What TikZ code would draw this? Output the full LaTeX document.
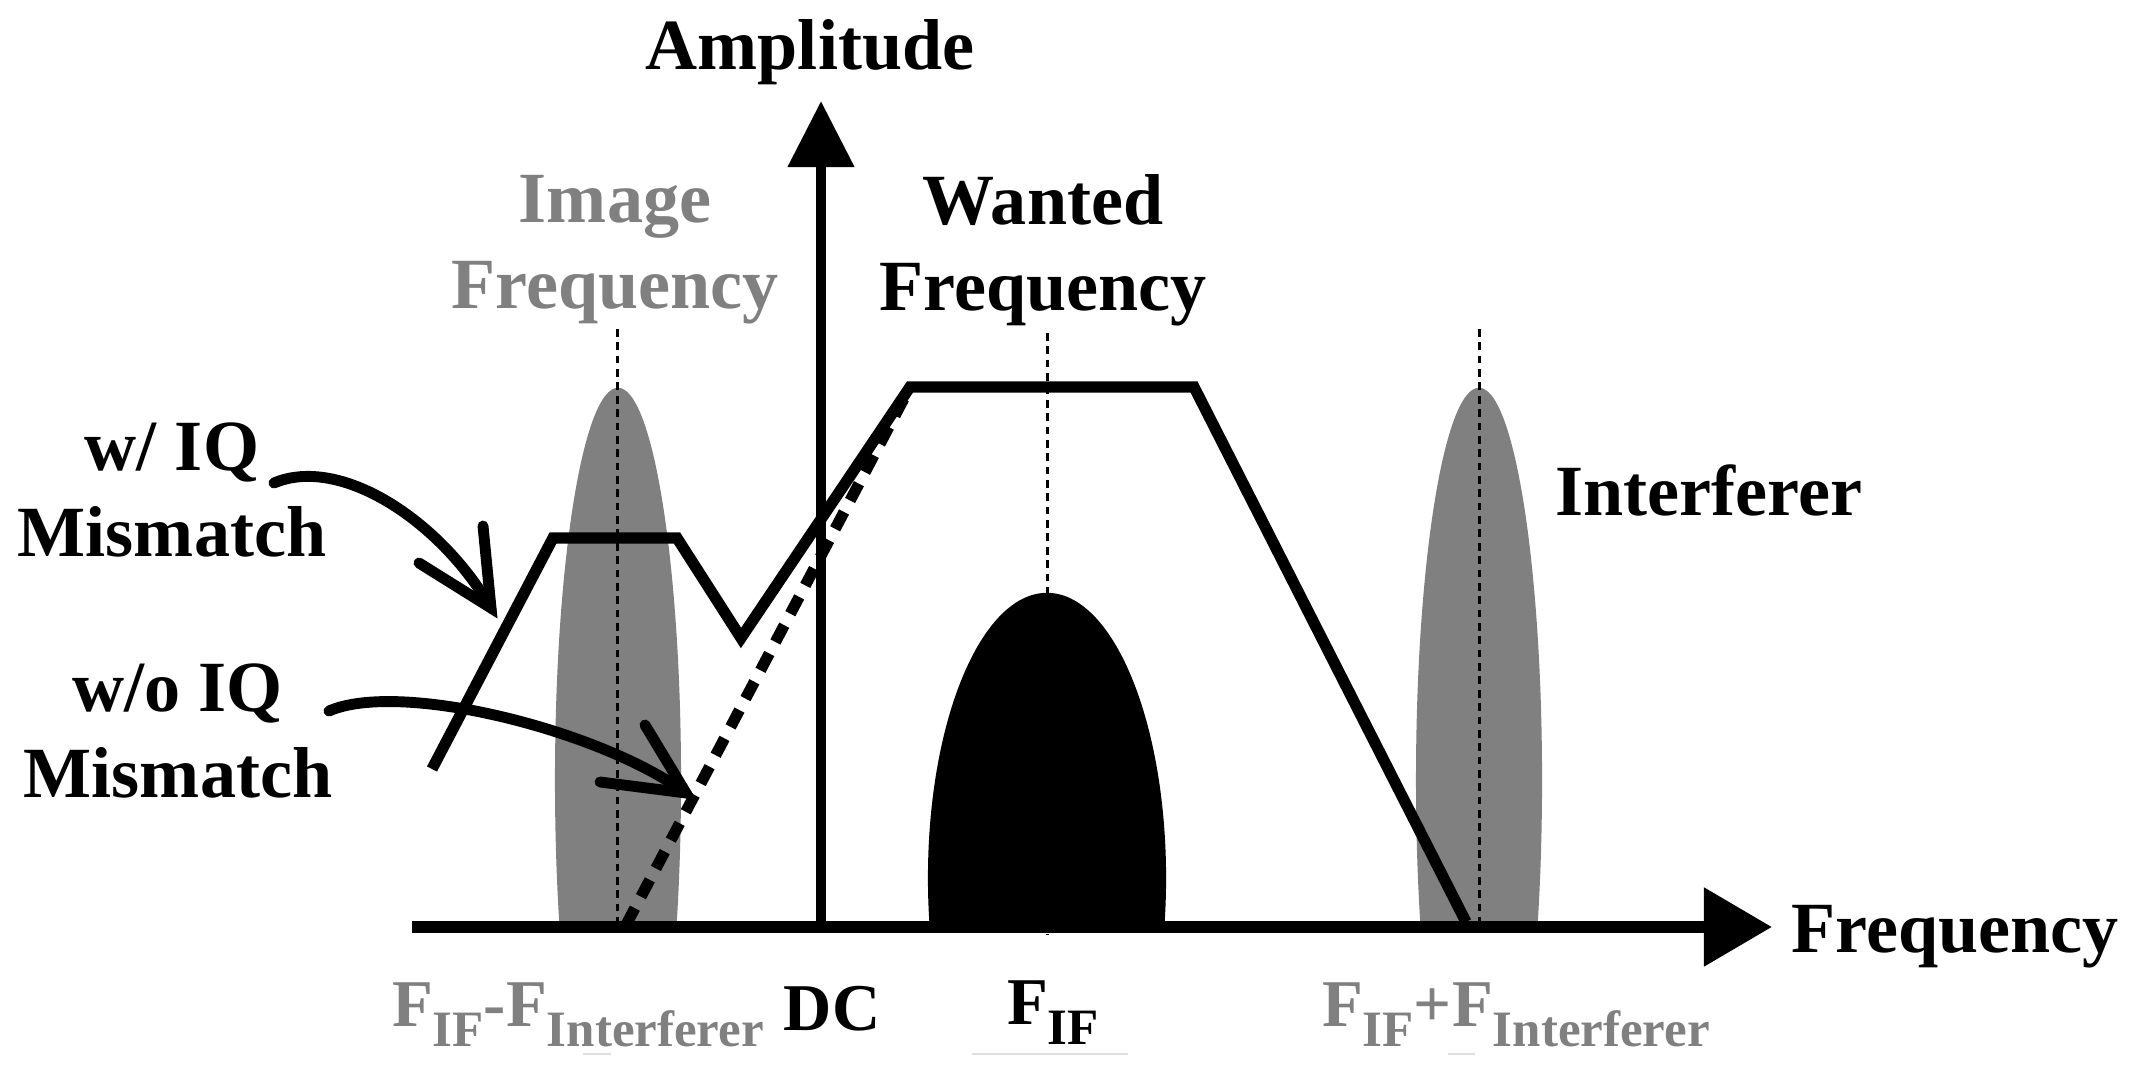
\documentclass[tikz,border=0pt]{standalone}
\usepackage{fontspec}
\setmainfont{Liberation Serif}
\usetikzlibrary{arrows.meta}
\definecolor{gr}{HTML}{808080}
\newcommand\sbs[1]{\raisebox{-0.3em}{\fontsize{14.5}{15}\selectfont #1}}
\tikzset{
  lbl/.style={font=\fontsize{20.5}{24.4}\selectfont\bfseries, inner sep=0pt, align=center},
  graylbl/.style={lbl, text=gr},
  botlbl/.style={font=\fontsize{19}{22}\selectfont\bfseries, inner sep=0pt},
  filt/.style={line width=3.2pt, line join=miter},
  dashline/.style={line width=3.2pt, dash pattern=on 5.4pt off 3.7pt},
  dotline/.style={line width=0.85pt, dash pattern=on 2.2pt off 1.6pt},
  curv/.style={line width=3.1pt, line cap=round},
  faint/.style={line width=0.6pt, gray!25}
}
\begin{document}
\begin{tikzpicture}[x=0.01cm, y=-0.01cm]
\useasboundingbox (0,0) rectangle (2152,1068);
% gray lobes and black wanted signal
\begin{scope}
  \clip (0,0) rectangle (2152,925);
  \fill[gr] (618,780) ellipse [x radius=0.63cm, y radius=3.92cm];
  \fill[gr] (1479,780) ellipse [x radius=0.63cm, y radius=3.92cm];
  \fill[black] (1047,878) ellipse [x radius=1.19cm, y radius=2.85cm];
\end{scope}
% dotted centre lines
\coordinate (imtop) at (617,329);
\coordinate (imbot) at (617,925);
\coordinate (intop) at (1479,329);
\coordinate (inbot) at (1479,925);
\coordinate (wtop) at (1047,333);
\coordinate (wbot) at (1047,935);
\draw[dotline] (imtop) -- (imbot);
\draw[dotline] (intop) -- (inbot);
\draw[dotline] (wtop) -- (wbot);
% axes
\coordinate (xl) at (412,927);
\coordinate (xr) at (1772,927);
\coordinate (yb) at (821,927);
\coordinate (yt) at (821,101);
\draw[line width=3.4pt, -{Triangle[length=0.68cm, width=0.76cm]}] (xl) -- (xr);
\draw[line width=3.1pt, -{Triangle[length=0.66cm, width=0.64cm]}] (yb) -- (yt);
% filter response with IQ mismatch
\coordinate (p1) at (432,769);
\coordinate (p2) at (553,538);
\coordinate (p3) at (677,538);
\coordinate (p4) at (741,638);
\coordinate (p5) at (910,387);
\coordinate (p6) at (1194,387);
\coordinate (p7) at (1466,922);
\draw[filt] (p1) -- (p2) -- (p3) -- (p4) -- (p5) -- (p6) -- (p7);
% without IQ mismatch
\coordinate (d1) at (626,925);
\draw[dashline] (d1) -- (p5);
% curved arrows
\coordinate (a1s) at (274,483);
\coordinate (a1t) at (491,608);
\coordinate (a1h1) at (419,563);
\coordinate (a1h2) at (483,526);
\draw[curv] (a1s) .. controls (340,455) and (440,520) .. (a1t);
\draw[curv] (a1h1) -- (a1t) -- (a1h2);
\coordinate (a2s) at (329,711);
\coordinate (a2t) at (686,793);
\coordinate (a2h1) at (600,782);
\coordinate (a2h2) at (645,725);
\draw[curv] (a2s) .. controls (400,680) and (600,730) .. (a2t);
\draw[curv] (a2h1) -- (a2t) -- (a2h2);
% labels
\node[lbl] (amp) at (810,52) {Amplitude};
\node[graylbl] (imf) at (615,250) {Image\\Frequency};
\node[lbl] (wf) at (1043,250) {Wanted\\Frequency};
\node[lbl, anchor=west] (intf) at (1555,490) {Interferer};
\node[lbl, anchor=west] (freq) at (1791,937) {Frequency};
\node[lbl] (wiq) at (172,490) {w/ IQ\\Mismatch};
\node[lbl] (woiq) at (178,731) {w/o IQ\\Mismatch};
\node[botlbl, text=gr] (fm) at (578,1015) {F\sbs{IF}-F\sbs{Interferer}};
\node[botlbl] (dc) at (832,1009) {DC};
\node[botlbl] (fif) at (1053,1013) {F\sbs{IF}};
\node[botlbl, text=gr] (fp) at (1516,1015) {F\sbs{IF}+F\sbs{Interferer}};
% faint marks under labels
\coordinate (f1a) at (583,1054); \coordinate (f1b) at (611,1054);
\coordinate (f2a) at (972,1054); \coordinate (f2b) at (1128,1054);
\coordinate (f3a) at (1448,1054); \coordinate (f3b) at (1475,1054);
\draw[faint] (f1a) -- (f1b);
\draw[faint] (f2a) -- (f2b);
\draw[faint] (f3a) -- (f3b);
\end{tikzpicture}
\end{document}
